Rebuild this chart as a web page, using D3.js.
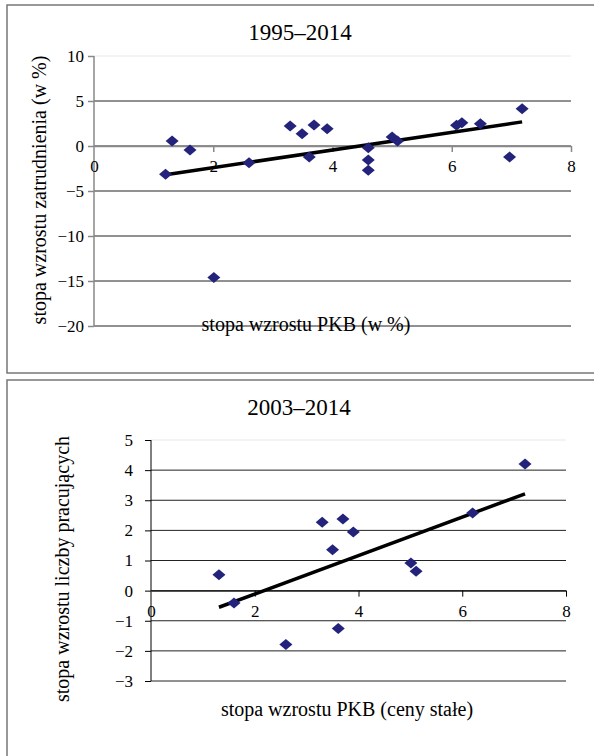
<!DOCTYPE html>
<html>
<head>
<meta charset="utf-8">
<script src="https://cdn.jsdelivr.net/npm/d3@7"></script>
<style>
  body { margin: 0; background: #fff; }
  svg text { font-family: "Liberation Serif", "DejaVu Serif", "Times New Roman", serif !important; }
</style>
</head>
<body>
<svg id="chart" width="594" height="756"></svg>
<script>
// 1995-2014: GDP growth vs employment growth (w %)
const gdp1995 = [1.20, 1.31, 1.61, 2.60, 3.29, 3.49, 3.61, 3.69, 3.91, 4.60,
                 4.60, 4.60, 5.00, 5.09, 6.08, 6.17, 6.48, 6.97, 7.18, 2.01]
const emp1995 = [-3.15, 0.56, -0.44, -1.85, 2.22, 1.37, -1.22, 2.33, 1.93, -0.19,
                 -1.56, -2.70, 1.00, 0.56, 2.30, 2.59, 2.48, -1.22, 4.15, -14.6]

// 2003-2014: GDP growth (constant prices) vs growth of number of workers
const gdp2003 = [7.21, 6.20, 3.30, 3.70, 3.90, 3.50, 5.01, 5.11, 1.31, 1.60, 2.60, 3.61]
const emp2003 = [4.20, 2.58, 2.27, 2.38, 1.95, 1.36, 0.92, 0.64, 0.53, -0.41, -1.79, -1.26]

const xTicks = [0, 2, 4, 6, 8]
const yTicks1995 = [10, 5, 0, -5, -10, -15, -20]
const yTicks2003 = [5, 4, 3, 2, 1, 0, -1, -2, -3]

const svg = d3.select("#chart")
const diamond = "M0,-5.5L6.5,0L0,5.5L-6.5,0Z"

function regression(xs, ys) {
    let mx = d3.mean(xs), my = d3.mean(ys)
    let sxy = d3.sum(xs, (x, i) => (x - mx) * (ys[i] - my))
    let sxx = d3.sum(xs, x => (x - mx) * (x - mx))
    let slope = sxy / sxx
    return x => my + slope * (x - mx)
}

function drawPanel(p) {
    // frame
    svg.append("rect")
        .attr("x", p.frame[0]).attr("y", p.frame[1])
        .attr("width", p.frame[2]).attr("height", p.frame[3])
        .attr("fill", "none").attr("stroke", "#777").attr("stroke-width", 1.5)

    let x = d3.scaleLinear().domain([0, 8]).range(p.xRange)
    let y = d3.scaleLinear().domain(p.yDomain).range(p.yRange)
    let g = svg.append("g")

    // horizontal gridlines
    g.selectAll(".grid")
        .data(p.yTicks)
        .join("line")
        .attr("x1", x(0)).attr("x2", x(8))
        .attr("y1", d => y(d)).attr("y2", d => y(d))
        .attr("stroke", d => d === p.yDomain[1] ? "#e8e8e8" : "#222")
        .attr("stroke-width", 1)

    // y axis
    let yAxis = g.append("g")
        .attr("transform", `translate(${x(0)},0)`)
        .call(d3.axisLeft(y).tickValues(p.yTicks).tickSize(6).tickPadding(p.yPad).tickFormat(d3.format("d")))
    yAxis.attr("font-family", null).attr("font-size", 17)
    yAxis.select(".domain").attr("stroke", p.axisColor).attr("stroke-width", p.axisWidth)
        .attr("d", `M0,${p.yRange[0]}V${p.yRange[1]}`)
    yAxis.selectAll(".tick line").attr("stroke", p.axisColor).attr("stroke-width", p.axisWidth)
    yAxis.selectAll(".tick text").attr("fill", "#000")

    // x axis at y = 0
    let xAxis = g.append("g")
        .attr("transform", `translate(0,${y(0)})`)
        .call(d3.axisBottom(x).tickValues(xTicks).tickSize(6).tickPadding(p.xPad).tickSizeOuter(0))
    xAxis.attr("font-family", null).attr("font-size", 17)
    xAxis.select(".domain").attr("stroke", p.axisColor).attr("stroke-width", p.axisWidth)
    xAxis.selectAll(".tick line").attr("stroke", p.axisColor).attr("stroke-width", p.axisWidth)
        .attr("opacity", d => d === 0 ? 0 : 1)
    xAxis.selectAll(".tick text").attr("fill", "#000")

    // trend line
    let fit = regression(p.xs, p.ys)
    let ext = d3.extent(p.xs)
    g.append("line")
        .attr("x1", x(ext[0])).attr("y1", y(fit(ext[0])))
        .attr("x2", x(ext[1])).attr("y2", y(fit(ext[1])))
        .attr("stroke", "#000").attr("stroke-width", 3.5)

    // points
    g.selectAll(".pt")
        .data(p.xs.map((d, i) => [d, p.ys[i]]))
        .join("path")
        .attr("d", diamond)
        .attr("transform", d => `translate(${x(d[0])},${y(d[1])})`)
        .attr("fill", "#23237b")

    // titles
    svg.append("text")
        .attr("x", p.title[1]).attr("y", p.title[2])
        .attr("text-anchor", "middle").attr("font-size", 23)
        .text(p.title[0])
    svg.append("text")
        .attr("x", p.xTitle[1]).attr("y", p.xTitle[2])
        .attr("text-anchor", "middle").attr("font-size", 20)
        .text(p.xTitle[0])
    svg.append("text")
        .attr("transform", `translate(${p.yTitle[1]},${p.yTitle[2]}) rotate(-90)`)
        .attr("text-anchor", "middle").attr("font-size", 20)
        .text(p.yTitle[0])
}

drawPanel({
    frame: [7, 5, 600, 368],
    xRange: [94, 571], yDomain: [-20, 10], yRange: [326, 56],
    yTicks: yTicks1995, xs: gdp1995, ys: emp1995,
    axisColor: "#888", axisWidth: 1.5, yPad: 4, xPad: 8,
    title: ["1995–2014", 300, 40],
    xTitle: ["stopa wzrostu PKB (w %)", 306, 331],
    yTitle: ["stopa wzrostu zatrudnienia (w %)", 46, 190]
})

drawPanel({
    frame: [7, 380, 600, 400],
    xRange: [151, 566], yDomain: [-3, 5], yRange: [681, 440],
    yTicks: yTicks2003, xs: gdp2003, ys: emp2003,
    axisColor: "#000", axisWidth: 1, yPad: 12, xPad: 8,
    title: ["2003–2014", 299, 415],
    xTitle: ["stopa wzrostu PKB (ceny stałe)", 347, 716],
    yTitle: ["stopa wzrostu liczby pracujących", 69, 569]
})
</script>
</body>
</html>
